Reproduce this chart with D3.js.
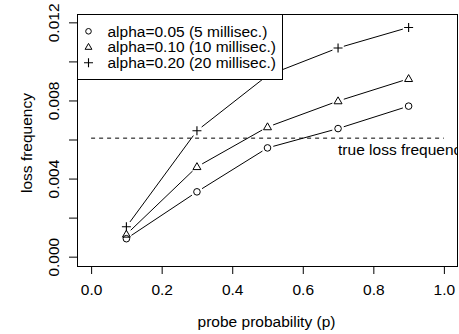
<!DOCTYPE html>
<html><head><meta charset="utf-8">
<script src="https://cdn.jsdelivr.net/npm/d3@7"></script>
<style>html,body{margin:0;padding:0;background:#fff;}svg{display:block;}</style>
</head><body>
<script>
const probes = [0.1, 0.3, 0.5, 0.7, 0.9];
const alpha05 = [0.00092, 0.00332, 0.00557, 0.00656, 0.00771];
const alpha10 = [0.00114, 0.00460, 0.00664, 0.00797, 0.00911];
const alpha20 = [0.00153, 0.00645, 0.00928, 0.01069, 0.01174];
const seriesNames = ["alpha=0.05 (5 millisec.)", "alpha=0.10 (10 millisec.)", "alpha=0.20 (20 millisec.)"];
const seriesSymbols = ["circle", "triangle", "plus"];
const trueLoss = 0.00607;
const trueLossLabel = "true loss frequency";
const xTicks = [0, 0.2, 0.4, 0.6, 0.8, 1.0];
const yTicks = [0, 0.002, 0.004, 0.006, 0.008, 0.010, 0.012];
const yTickLabels = ["0.000", "", "0.004", "", "0.008", "", "0.012"];
const xTitle = "probe probability (p)";
const yTitle = "loss frequency";

const W = 459, H = 334;
const L = 77, R = 458, T = 14, B = 266;
const FONT = "Liberation Sans, Arial, Helvetica, sans-serif";
const FS = 15.5;

const svg = d3.select("body").append("svg").attr("width", W).attr("height", H)
  .style("font-family", FONT);

const xs = d3.scaleLinear().domain([-0.04, 1.04]).range([L, R]);
const ymin = 0, ymax = 0.01195, yr = ymax - ymin;
const ys = d3.scaleLinear().domain([ymin - 0.04 * yr, ymax + 0.04 * yr]).range([B, T]);

// axes
const xAxis = svg.append("g").attr("transform", `translate(0,${B})`)
  .call(d3.axisBottom(xs).tickValues(xTicks).tickFormat(d3.format(".1f")).tickSizeOuter(0).tickSizeInner(8).tickPadding(10));
xAxis.select(".domain").attr("d", `M${xs(0)},0.5H${xs(1)}`);
xAxis.selectAll("text").attr("font-size", FS).attr("font-family", FONT).attr("fill", "#000");
xAxis.selectAll("line,path").attr("stroke", "#000");

const yAxis = svg.append("g").attr("transform", `translate(${L},0)`)
  .call(d3.axisLeft(ys).tickValues(yTicks).tickFormat((d, i) => yTickLabels[i]).tickSizeOuter(0).tickSizeInner(8).tickPadding(0));
yAxis.select(".domain").attr("d", `M0.5,${ys(0)}V${ys(0.012)}`);
yAxis.selectAll("line,path").attr("stroke", "#000");
yAxis.selectAll("text").attr("font-size", FS).attr("font-family", FONT).attr("fill", "#000")
  .attr("text-anchor", "middle").attr("x", null).attr("dy", null)
  .attr("transform", "translate(-23,0) rotate(-90)").attr("dy", "0.35em");

// box
svg.append("rect").attr("x", L + 0.5).attr("y", T + 0.5).attr("width", R - L - 1).attr("height", B - T)
  .attr("fill", "none").attr("stroke", "#000").attr("stroke-width", 1);

// titles
svg.append("text").attr("x", (L + R) / 2 - 1).attr("y", 322).attr("dy", "0.35em")
  .attr("text-anchor", "middle").attr("font-size", FS).text(xTitle);
svg.append("text").attr("transform", `translate(27,${(T + B) / 2 + 3}) rotate(-90)`).attr("dy", "0.35em")
  .attr("text-anchor", "middle").attr("font-size", FS).text(yTitle);

// clip
svg.append("clipPath").attr("id", "clip").append("rect").attr("x", L).attr("y", T).attr("width", R - L).attr("height", B - T);
const plot = svg.append("g").attr("clip-path", "url(#clip)");

// true loss line
plot.append("line").attr("x1", xs(0)).attr("x2", xs(1)).attr("y1", ys(trueLoss)).attr("y2", ys(trueLoss))
  .attr("stroke", "#000").attr("stroke-dasharray", "4,4");
plot.append("text").attr("x", xs(0.7)).attr("y", ys(trueLoss) + 11).attr("dy", "0.35em")
  .attr("font-size", FS).text(trueLossLabel);

function symbol(g, type, cx, cy, k) {
  k = k || 1;
  if (type === "circle") {
    g.append("circle").attr("cx", cx).attr("cy", cy).attr("r", 3.3 * k).attr("fill", "none").attr("stroke", "#000");
  } else if (type === "triangle") {
    const s = 4.2 * k;
    g.append("path").attr("d", `M${cx},${cy - s}L${cx + s * 0.95},${cy + s * 0.65}L${cx - s * 0.95},${cy + s * 0.65}Z`)
      .attr("fill", "none").attr("stroke", "#000");
  } else {
    const s = 4.5;
    g.append("path").attr("d", `M${cx - s},${cy}H${cx + s}M${cx},${cy - s}V${cy + s}`)
      .attr("fill", "none").attr("stroke", "#000").attr("stroke-width", 1.1);
  }
}

const allSeries = [alpha05, alpha10, alpha20];
const gap = 6;
allSeries.forEach((vals, si) => {
  const pts = probes.map((p, i) => [xs(p), ys(vals[i])]);
  for (let i = 0; i < pts.length - 1; i++) {
    const [x1, y1] = pts[i], [x2, y2] = pts[i + 1];
    const dx = x2 - x1, dy = y2 - y1, len = Math.hypot(dx, dy);
    const ux = dx / len, uy = dy / len;
    plot.append("line").attr("x1", x1 + ux * gap).attr("y1", y1 + uy * gap)
      .attr("x2", x2 - ux * gap).attr("y2", y2 - uy * gap).attr("stroke", "#000");
  }
  pts.forEach(([x, y]) => symbol(plot, seriesSymbols[si], x, y));
});

// legend
const lg = svg.append("g");
lg.append("rect").attr("x", L + 0.5).attr("y", T + 0.5).attr("width", 282 - L).attr("height", 79 - T)
  .attr("fill", "#fff").attr("stroke", "#000");
seriesNames.forEach((name, i) => {
  const cy = 31.3 + i * 15.7;
  symbol(lg, seriesSymbols[i], 88.5, cy, 0.85);
  lg.append("text").attr("x", 107.5).attr("y", cy).attr("dy", "0.35em").attr("font-size", FS).text(name);
});
</script>
</body></html>
